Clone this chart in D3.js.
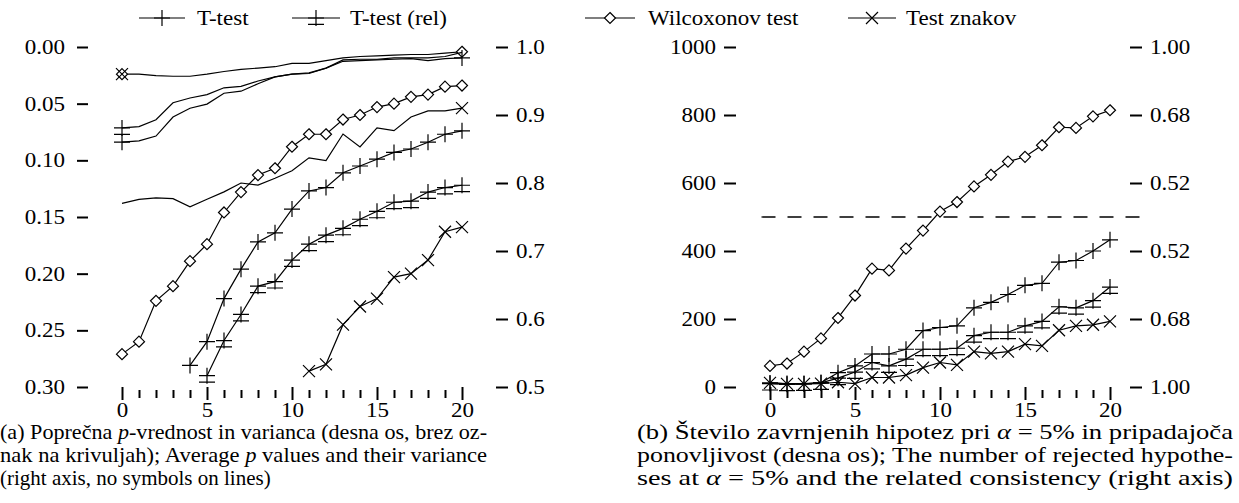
<!DOCTYPE html>
<html><head><meta charset="utf-8">
<script src="https://cdn.jsdelivr.net/npm/d3@7/dist/d3.min.js"></script>
<style>
body{margin:0;background:#fff}
svg{display:block;font-family:"Liberation Serif","DejaVu Serif",serif}
svg text{font-family:"Liberation Serif","DejaVu Serif",serif !important;fill:#000}
</style></head>
<body><svg id="c" width="1239" height="503"></svg>
<script>
// ---------- data ----------
const steps = [0,1,2,3,4,5,6,7,8,9,10,11,12,13,14,15,16,17,18,19,20];
const seriesNames = ["T-test","T-test (rel)","Wilcoxonov test","Test znakov"];

// panel (a): average p values (left axis, reversed)
const pTtest    = [null,null,null,null,0.281,0.260,0.222,0.196,0.172,0.164,0.143,0.127,0.124,0.111,0.105,0.099,0.093,0.090,0.084,0.077,0.074];
const pTtestRel = [null,null,null,null,null,0.290,0.259,0.236,0.211,0.207,0.188,0.174,0.166,0.160,0.152,0.145,0.137,0.136,0.128,0.124,0.122];
const pWilcoxon = [0.271,0.260,0.224,0.211,0.189,0.174,0.146,0.128,0.113,0.107,0.088,0.077,0.077,0.064,0.060,0.053,0.050,0.044,0.042,0.035,0.034];
const pSign     = [null,null,null,null,null,null,null,null,null,null,null,0.286,0.280,0.245,0.229,0.222,0.203,0.200,0.188,0.163,0.159];
// panel (a): variance (right axis)
const vTtest    = [0.860,0.862,0.869,0.897,0.910,0.916,0.932,0.935,0.946,0.956,0.960,0.961,0.969,0.979,0.980,0.981,0.982,0.983,0.980,0.983,0.984];
const vTtestRel = [0.881,0.883,0.893,0.918,0.925,0.930,0.940,0.942,0.950,0.956,0.960,0.962,0.969,0.981,0.982,0.982,0.984,0.984,0.984,0.986,0.992];
const vWilcoxon = [0.960,0.960,0.958,0.957,0.957,0.960,0.964,0.967,0.969,0.971,0.976,0.976,0.980,0.984,0.986,0.987,0.988,0.989,0.989,0.991,0.993];
const vSign     = [0.770,0.776,0.778,0.777,0.765,0.776,0.787,0.800,0.797,0.807,0.818,0.837,0.833,0.872,0.853,0.881,0.877,0.897,0.906,0.906,0.910];

// panel (b): number of rejected hypotheses
const nTtest    = [12,10,10,13,42,62,97,97,111,166,175,180,233,249,272,299,305,367,372,400,433];
const nTtestRel = [10,8,9,12,26,44,72,62,82,111,111,114,151,161,161,180,193,236,233,254,294];
const nWilcoxon = [62,69,104,143,203,269,348,343,407,460,516,544,590,624,663,677,711,764,762,796,814];
const nSign     = [12,9,9,10,14,10,28,28,35,57,72,65,104,99,104,126,121,167,180,183,193];
const threshold = 500;

// ticks
const xTicksMajor = [0,5,10,15,20];
const xTicksMinor = [1,2,3,4,6,7,8,9,11,12,13,14,16,17,18,19];
const pTicks = [0,0.05,0.10,0.15,0.20,0.25,0.30];
const pTickLabels = ["0.00","0.05","0.10","0.15","0.20","0.25","0.30"];
const vTicks = [1.0,0.9,0.8,0.7,0.6,0.5];
const vTickLabels = ["1.0","0.9","0.8","0.7","0.6","0.5"];
const nTicks = [0,200,400,600,800,1000];
const nTickLabels = ["0","200","400","600","800","1000"];
const cTickLabels = ["1.00","0.68","0.52","0.52","0.68","1.00"];

const capA = [
  [["(a) Poprečna ",""],["p","i"],["-vrednost in varianca (desna os, brez oz-",""]],
  [["nak na krivuljah); Average ",""],["p","i"],[" values and their variance",""]],
  [["(right axis, no symbols on lines)",""]]
];
const capB = [
  [["(b) Število zavrnjenih hipotez pri ",""],["α","i"],[" = 5% in pripadajoča",""]],
  [["ponovljivost (desna os); The number of rejected hypothe-",""]],
  [["ses at ",""],["α","i"],[" = 5% and the related consistency (right axis)",""]]
];

// ---------- drawing ----------
const SX = 1.15, FS = 20;
const svg = d3.select("#c");
const sym = {
  plus:    s=>`M${-s},0H${s}M0,${-s}V${s}`,
  plusRel: s=>`M${-s},0H${s}M0,${-s}V${s}M${-s},${s*0.8}H${s}`,
  diamond: s=>`M0,${-s}L${s},0L0,${s}L${-s},0Z`,
  cross:   s=>`M${-s},${-s}L${s},${s}M${-s},${s}L${s},${-s}`
};
const symSize = {plus:8, plusRel:8, diamond:5.5, cross:6};
const symOrder = ["plus","plusRel","diamond","cross"];
function marker(g, type, x, y){
  g.append("path").attr("d", sym[type](symSize[type]))
   .attr("transform",`translate(${x},${y})`)
   .attr("fill", type==="diamond" ? "#fff" : "none")
   .attr("stroke","#000").attr("stroke-width",1.2);
}
function stretch(sel, sx){
  sel.each(function(){
    const t=d3.select(this); const x=+(t.attr("x")||0);
    t.attr("x", x/sx).attr("transform",`scale(${sx},1)`);
  });
}
function styleAxis(g){
  g.attr("font-family",null);
  g.select(".domain").remove();
  g.selectAll(".tick line").attr("stroke","#000").attr("stroke-width",2);
  g.selectAll("text").attr("font-size",FS).attr("fill","#000");
  stretch(g.selectAll("text"), SX);
}
function xAxes(x, y0){
  const g1 = svg.append("g").attr("transform",`translate(0,${y0})`)
    .call(d3.axisBottom(x).tickValues(xTicksMajor).tickSize(13).tickPadding(3).tickFormat(d3.format("d")));
  styleAxis(g1);
  const g2 = svg.append("g").attr("transform",`translate(0,${y0+3})`)
    .call(d3.axisBottom(x).tickValues(xTicksMinor).tickSize(8).tickFormat(""));
  styleAxis(g2);
}
function drawLine(g, x, y, vals, dash){
  const line = d3.line().defined(d=>d[1]!=null).x(d=>x(d[0])).y(d=>y(d[1]));
  g.append("path").datum(steps.map((s,i)=>[s,vals[i]]))
    .attr("d",line).attr("fill","none").attr("stroke","#000").attr("stroke-width",1.2)
    .attr("stroke-dasharray",dash||null);
}
function drawSeries(g, x, y, vals, type){
  drawLine(g,x,y,vals);
  steps.forEach((s,i)=>{ if(vals[i]!=null) marker(g,type,x(s),y(vals[i])); });
}

// panel (a)
const xA = d3.scaleLinear().domain([-2,22]).range([88,496]);
const yA = d3.scaleLinear().domain([0,0.30]).range([47,387]);
const yAr = d3.scaleLinear().domain([0.5,1.0]).range([387,47]);
const gA = svg.append("g");
styleAxis(svg.append("g").attr("transform",`translate(${xA(-2)},0)`)
  .call(d3.axisLeft(yA).tickValues(pTicks).tickSize(11).tickPadding(12).tickFormat((d,i)=>pTickLabels[i])));
styleAxis(svg.append("g").attr("transform",`translate(${xA(22)},0)`)
  .call(d3.axisRight(yAr).tickValues(vTicks).tickSize(12).tickPadding(8).tickFormat((d,i)=>vTickLabels[i])));
xAxes(xA, 387);

// variance lines (right axis)
const varSeries = [
  {vals:vWilcoxon, marks:[[0,"diamond"],[0,"cross"],[20,"diamond"]]},
  {vals:vTtestRel, marks:[[0,"plusRel"]]},
  {vals:vTtest,    marks:[[0,"plus"],[20,"plus"]]},
  {vals:vSign,     marks:[[20,"cross"]]}
];
varSeries.forEach(v=>{
  drawLine(gA,xA,yAr,v.vals);
  v.marks.forEach(([s,t])=>marker(gA,t,xA(s),yAr(v.vals[s])));
});
[pTtest,pTtestRel,pWilcoxon,pSign].forEach((v,i)=>drawSeries(gA,xA,yA,v,symOrder[i]));

// panel (b)
const xB = d3.scaleLinear().domain([-2,22]).range([736,1144]);
const yB = d3.scaleLinear().domain([0,1000]).range([387,47]);
const gB = svg.append("g");
styleAxis(svg.append("g").attr("transform",`translate(${xB(-2)},0)`)
  .call(d3.axisLeft(yB).tickValues(nTicks).tickSize(12).tickPadding(8).tickFormat((d,i)=>nTickLabels[i])));
styleAxis(svg.append("g").attr("transform",`translate(${xB(22)-14},0)`)
  .call(d3.axisRight(yB).tickValues(nTicks).tickSize(12).tickPadding(8).tickFormat((d,i)=>cTickLabels[i])));
xAxes(xB, 387);
gB.append("line").attr("x1",xB(-0.5)).attr("x2",xB(22)).attr("y1",yB(threshold)).attr("y2",yB(threshold))
  .attr("stroke","#000").attr("stroke-width",1.3).attr("stroke-dasharray","14,12");
[nTtest,nTtestRel,nWilcoxon,nSign].forEach((v,i)=>drawSeries(gB,xB,yB,v,symOrder[i]));

// legend
const legendPos = [{x0:139,x1:185,tx:197},{x0:292,x1:340,tx:350},{x0:585,x1:635,tx:648},{x0:848,x1:896,tx:906}];
const gL = svg.append("g");
seriesNames.forEach((name,i)=>{
  const p = legendPos[i], ly = 18;
  gL.append("line").attr("x1",p.x0).attr("x2",p.x1).attr("y1",ly).attr("y2",ly).attr("stroke","#000").attr("stroke-width",1.2);
  marker(gL, symOrder[i], (p.x0+p.x1)/2, ly);
  gL.append("text").attr("x",p.tx/SX).attr("y",ly+7).attr("font-size",FS)
    .attr("transform",`scale(${SX},1)`).text(name);
});

// captions
function caption(lines, x0, width, y0, sx, fs, justifyAll){
  lines.forEach((parts,i)=>{
    const t = svg.append("text").attr("x",x0/sx).attr("y",y0+i*23).attr("font-size",fs)
      .attr("transform",`scale(${sx},1)`);
    parts.forEach(([s,st])=>{ const ts=t.append("tspan").text(s); if(st==="i") ts.attr("font-style","italic"); });
    if(justifyAll || i<lines.length-1) t.attr("textLength",width/sx).attr("lengthAdjust","spacingAndGlyphs");
  });
}
caption(capA, 0, 487, 439, 1.0, 21, false);
caption(capB, 637, 596, 439, 1.2, 21, true);
</script></body></html>
